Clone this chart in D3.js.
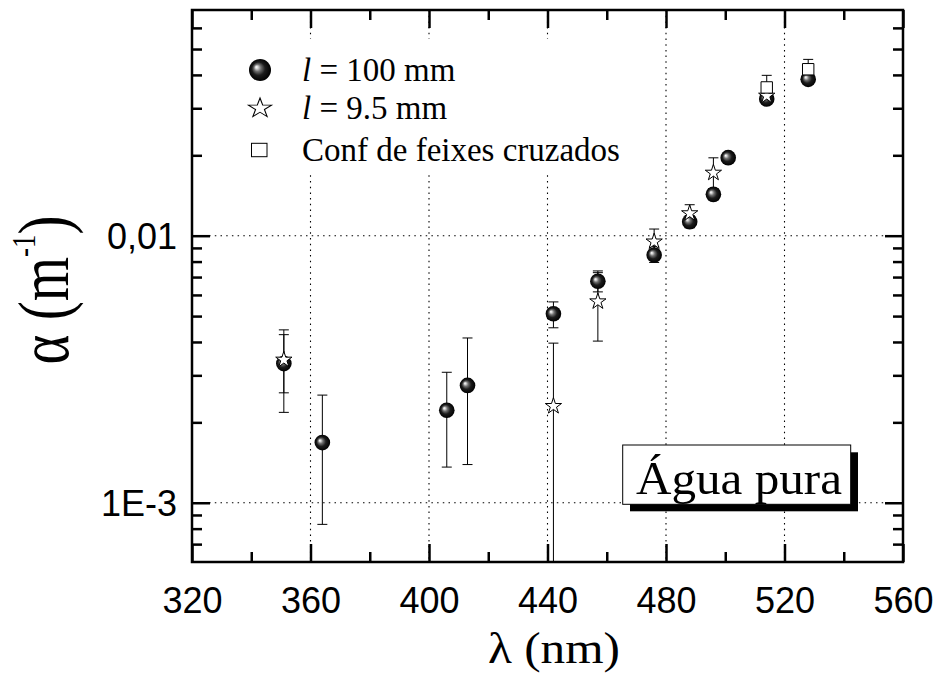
<!DOCTYPE html>
<html><head><meta charset="utf-8">
<script src="https://cdn.jsdelivr.net/npm/d3@7"></script>
<style>body{margin:0;background:#fff}</style>
</head><body><svg id="c" width="937" height="673"></svg>
<script>
// ---- data ----
const sphereWl  = [351, 364, 406, 413, 442, 457, 476, 488, 496, 501, 514, 528];
const sphereVal = [0.00332, 0.00168, 0.00222, 0.00275, 0.00510, 0.00675, 0.00847, 0.01128, 0.01428, 0.01960, 0.03250, 0.03850];
const sphereHi  = [0.00426, 0.00253, 0.00308, 0.00414, 0.00565, 0.00738, 0.00910, 0.01190, 0.01500, 0.02050, 0.03400, 0.04000];
const sphereLo  = [0.00218, 0.00083, 0.00136, 0.00139, 0.00452, 0.00616, 0.00794, 0.01070, 0.01360, 0.01880, 0.03120, 0.03700];
const starWl  = [351, 442, 457, 476, 488, 496, 514];
const starVal = [0.00343, 0.00230, 0.00567, 0.00950, 0.01212, 0.01719, 0.03340];
const starHi  = [0.00444, 0.00396, 0.00727, 0.01059, 0.01306, 0.01957, 0.03550];
const starLo  = [0.00258, 0.00040, 0.00403, 0.00850, 0.01120, 0.01500, 0.03130];
const squareWl  = [514, 528];
const squareVal = [0.03590, 0.04200];
const squareHi  = [0.03985, 0.04573];
const squareLo  = [0.03250, 0.03850];
const xTickVals = [320, 360, 400, 440, 480, 520, 560];
const xMinorVals = [340, 380, 420, 460, 500, 540];
const yTickVals = [0.001, 0.01];
const yTickLabels = ["1E-3", "0,01"];
const yMinorVals = [0.0007, 0.0008, 0.0009, 0.002, 0.003, 0.004, 0.005, 0.006, 0.007, 0.008, 0.009, 0.02, 0.03, 0.04, 0.05, 0.06];
const legendLabels = [["l", " = 100 mm"], ["l", " = 9.5 mm"], ["", "Conf de feixes cruzados"]];
const xTitle = "λ (nm)";
const boxText = "Água pura";

// ---- layout ----
const L = 192, R = 903, T = 10, B = 562;
const svg = d3.select("#c");
const x = d3.scaleLinear().domain([320, 560]).range([L, R]);
const y = d3.scaleLog().domain([0.0006, 0.07]).range([B, T]).clamp(true);
const serif = "'Liberation Serif','Times New Roman',serif";
const sans = "'Liberation Sans',Arial,sans-serif";

const defs = svg.append("defs");
const g = defs.append("radialGradient").attr("id", "sph")
  .attr("cx", "0.5").attr("cy", "0.5").attr("r", "0.5").attr("fx", "0.33").attr("fy", "0.36");
[[0, "#ffffff"], [0.12, "#d8d8d8"], [0.32, "#707070"], [0.6, "#1c1c1c"], [1, "#000"]]
  .forEach(([o, c]) => g.append("stop").attr("offset", o).attr("stop-color", c));

// grid
const grid = svg.append("g").attr("stroke", "#000").attr("stroke-width", 1.1).attr("stroke-dasharray", "1.5,4.2");
grid.selectAll(".gx").data(xTickVals.slice(1, -1)).join("line")
  .attr("x1", d => x(d)).attr("x2", d => x(d)).attr("y1", T).attr("y2", B);
grid.selectAll(".gy").data(yTickVals).join("line")
  .attr("y1", d => y(d)).attr("y2", d => y(d)).attr("x1", L).attr("x2", R);

// legend background
svg.append("rect").attr("x", 235).attr("y", 39).attr("width", 400).attr("height", 132).attr("fill", "#fff");

// error bars
function errBars(wl, hi, lo) {
  const eg = svg.append("g").attr("stroke", "#000").attr("stroke-width", 1).attr("fill", "none");
  wl.forEach((w, i) => {
    const cx = x(w), y1 = y(hi[i]), y2 = y(lo[i]);
    eg.append("line").attr("x1", cx).attr("x2", cx).attr("y1", y1).attr("y2", y2);
    eg.append("line").attr("x1", cx - 5).attr("x2", cx + 5).attr("y1", y1).attr("y2", y1);
    if (y2 < B) eg.append("line").attr("x1", cx - 5).attr("x2", cx + 5).attr("y1", y2).attr("y2", y2);
  });
}
errBars(sphereWl, sphereHi, sphereLo);
errBars(starWl, starHi, starLo);
errBars(squareWl, squareHi, squareLo);

// symbols
svg.append("g").selectAll("circle").data(sphereWl).join("circle")
  .attr("cx", d => x(d)).attr("cy", (d, i) => y(sphereVal[i])).attr("r", 7.8).attr("fill", "url(#sph)");
const starSym = d3.symbol(d3.symbolStar).size(82);
svg.append("g").selectAll("path").data(starWl).join("path")
  .attr("d", starSym).attr("transform", (d, i) => `translate(${x(d)},${y(starVal[i])})`)
  .attr("fill", "#fff").attr("stroke", "#000").attr("stroke-width", 1);
const sqSym = d3.symbol(d3.symbolSquare).size(130);
svg.append("g").selectAll("path").data(squareWl).join("path")
  .attr("d", sqSym).attr("transform", (d, i) => `translate(${x(d)},${y(squareVal[i])})`)
  .attr("fill", "#fff").attr("stroke", "#000").attr("stroke-width", 1);

// axes
function styleAxis(sel) {
  sel.select(".domain").remove();
  sel.selectAll(".tick line").attr("stroke", "#000").attr("stroke-width", 2.5);
}
const xb = svg.append("g").attr("transform", `translate(0,${B})`)
  .call(d3.axisBottom(x).tickValues(xTickVals).tickSize(-18).tickPadding(25).tickFormat(d3.format("d")));
styleAxis(xb);
xb.selectAll("text").attr("font-family", sans).attr("font-size", 36).attr("fill", "#000");
svg.append("g").attr("transform", `translate(0,${B})`)
  .call(d3.axisBottom(x).tickValues(xMinorVals).tickSize(-10).tickFormat("")).call(styleAxis);
svg.append("g").attr("transform", `translate(0,${T})`)
  .call(d3.axisTop(x).tickValues(xTickVals).tickSize(-18).tickFormat("")).call(styleAxis);
svg.append("g").attr("transform", `translate(0,${T})`)
  .call(d3.axisTop(x).tickValues(xMinorVals).tickSize(-10).tickFormat("")).call(styleAxis);

const yl = svg.append("g").attr("transform", `translate(${L},0)`)
  .call(d3.axisLeft(y).tickValues(yTickVals).tickSize(-18).tickPadding(15)
    .tickFormat((d, i) => yTickLabels[i]));
styleAxis(yl);
yl.selectAll("text").attr("font-family", sans).attr("font-size", 36).attr("fill", "#000").attr("dy", "0.36em");
svg.append("g").attr("transform", `translate(${L},0)`)
  .call(d3.axisLeft(y).tickValues(yMinorVals).tickSize(-10).tickFormat("")).call(styleAxis);
svg.append("g").attr("transform", `translate(${R},0)`)
  .call(d3.axisRight(y).tickValues(yTickVals).tickSize(-18).tickFormat("")).call(styleAxis);
svg.append("g").attr("transform", `translate(${R},0)`)
  .call(d3.axisRight(y).tickValues(yMinorVals).tickSize(-10).tickFormat("")).call(styleAxis);

svg.append("rect").attr("x", L).attr("y", T).attr("width", R - L).attr("height", B - T)
  .attr("fill", "none").attr("stroke", "#000").attr("stroke-width", 2.5);

// axis titles
svg.append("text").attr("x", 488).attr("y", 663).attr("font-family", serif).attr("font-size", 45)
  .attr("textLength", 132).attr("lengthAdjust", "spacingAndGlyphs").text(xTitle);
const yt = svg.append("text").attr("transform", `translate(68,290) scale(1.27,1) rotate(-90)`)
  .attr("text-anchor", "middle").attr("font-family", serif).attr("font-size", 57);
yt.append("tspan").text("α (m");
yt.append("tspan").attr("font-size", 27).attr("dy", -26).text("-1");
yt.append("tspan").attr("dy", 26).text(")");

// legend
const legY = [70, 108.3, 150];
svg.append("circle").attr("cx", 260).attr("cy", legY[0]).attr("r", 11).attr("fill", "url(#sph)");
svg.append("path").attr("d", d3.symbol(d3.symbolStar).size(165)).attr("transform", `translate(260,${legY[1]}) scale(1,0.85)`)
  .attr("fill", "#fff").attr("stroke", "#000").attr("stroke-width", 1.1);
svg.append("rect").attr("x", 251.5).attr("y", legY[2] - 6.7).attr("width", 15.5).attr("height", 13.4)
  .attr("fill", "#fff").attr("stroke", "#000").attr("stroke-width", 1);
legendLabels.forEach((lab, i) => {
  const t = svg.append("text").attr("x", 302).attr("y", legY[i] + 11)
    .attr("font-family", serif).attr("font-size", 33).attr("fill", "#000");
  if (lab[0]) t.append("tspan").attr("font-style", "italic").text(lab[0]);
  t.append("tspan").text(lab[1]);
});

// Água pura box
svg.append("rect").attr("x", 630).attr("y", 452.3).attr("width", 228).attr("height", 59).attr("fill", "#000");
svg.append("rect").attr("x", 622.7).attr("y", 445).attr("width", 228).attr("height", 59.3)
  .attr("fill", "#fff").attr("stroke", "#000").attr("stroke-width", 1);
svg.append("text").attr("x", 636).attr("y", 494).attr("font-family", serif).attr("font-size", 47)
  .attr("textLength", 206).attr("lengthAdjust", "spacingAndGlyphs").text(boxText);
</script></body></html>
